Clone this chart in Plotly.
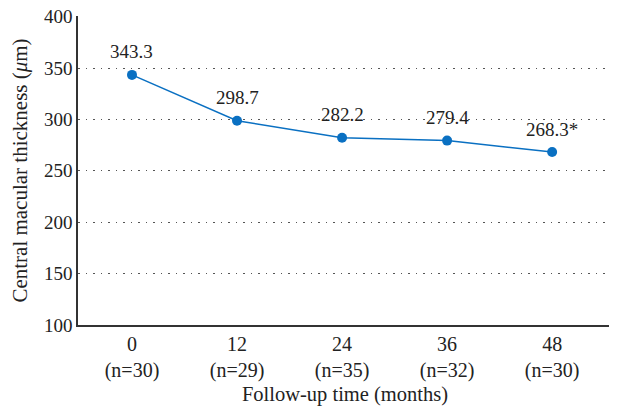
import plotly.graph_objects as go

months = ["0", "12", "24", "36", "48"]
n_counts = [30, 29, 35, 32, 30]
thickness = [343.3, 298.7, 282.2, 279.4, 268.3]
point_labels = ["343.3", "298.7", "282.2", "279.4", "268.3*"]
y_ticks = [100, 150, 200, 250, 300, 350, 400]

xpos = list(range(len(months)))
tick_text = [f"{m}<br>(n={n})" for m, n in zip(months, n_counts)]

FONT = "Liberation Serif, Times New Roman, serif"
BLUE = "#0A70C2"
FS = 19

fig = go.Figure()
fig.add_trace(go.Scatter(
    x=xpos, y=thickness, mode="lines+markers",
    line=dict(color=BLUE, width=1.5),
    marker=dict(color=BLUE, size=10),
    cliponaxis=False, showlegend=False,
))
for xv, yv, lab in zip(xpos, thickness, point_labels):
    fig.add_annotation(x=xv, y=yv, text=lab, showarrow=False, yshift=23,
                       font=dict(family=FONT, size=FS, color="#222"))

fig.update_layout(
    width=609, height=400,
    margin=dict(l=70, r=5, t=8, b=83),
    paper_bgcolor="white", plot_bgcolor="white",
    font=dict(family=FONT, size=FS, color="#222"),
)
fig.update_xaxes(
    range=[-0.514, 4.57], tickmode="array", tickvals=xpos, ticktext=tick_text,
    showgrid=False, zeroline=False, showline=True, linecolor="#333", linewidth=1.5,
    ticks="", tickfont=dict(size=20), automargin=False, ticklabeloverflow="allow",
    title=dict(text="Follow-up time (months)", font=dict(size=20.5), standoff=6),
)
fig.update_yaxes(
    range=[100, 400.6], tickmode="array", tickvals=y_ticks,
    showgrid=True, gridcolor="#555", griddash="1.5px,6px", gridwidth=1.2,
    zeroline=False, showline=True, linecolor="#333", linewidth=1.5,
    ticks="", tickfont=dict(size=FS), automargin=False, ticklabeloverflow="allow",
    title=dict(text="Central macular thickness (<i>μ</i>m)", font=dict(size=21), standoff=13),
)

fig.write_html("out.html")
